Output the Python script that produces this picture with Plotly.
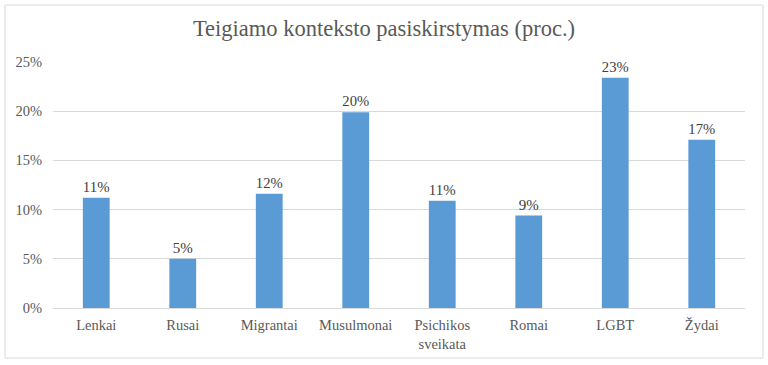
import plotly.graph_objects as go

categories = ["Lenkai", "Rusai", "Migrantai", "Musulmonai", "Psichikos<br>sveikata",
              "Romai", "LGBT", "Žydai"]
values = [11.2, 5.0, 11.6, 19.9, 10.9, 9.4, 23.4, 17.1]
y_ticks = [0, 5, 10, 15, 20, 25]
y_tick_labels = ["0%", "5%", "10%", "15%", "20%", "25%"]
title_text = "Teigiamo konteksto pasiskirstymas (proc.)"

W, H = 768, 365
ml, mr, mt, mb = 53, 23, 62, 57
pw, ph = W - ml - mr, H - mt - mb
SERIF = "'Liberation Serif', 'Times New Roman', Times, serif"

fig = go.Figure(go.Bar(
    x=categories, y=values,
    marker=dict(color="#5B9BD5", line=dict(width=0)),
    texttemplate="%{y:.0f}%", textposition="outside",
    textfont=dict(family=SERIF, size=15, color="#404040"),
    cliponaxis=False, hoverinfo="skip",
))

fig.update_layout(
    width=W, height=H,
    margin=dict(l=ml, r=mr, t=mt, b=mb, pad=0),
    paper_bgcolor="white", plot_bgcolor="white",
    bargap=0.69,
    showlegend=False,
    title=dict(text=title_text, x=0.5, xanchor="center", y=1 - 28 / H, yanchor="middle",
               font=dict(family=SERIF, size=22.5, color="#595959")),
    font=dict(family=SERIF, size=14.5, color="#595959"),
    xaxis=dict(showgrid=False, showline=True, linecolor="#d9d9d9", linewidth=1,
               ticks="", ticklabelstandoff=4,
               tickfont=dict(family=SERIF, size=14.5, color="#595959"), fixedrange=True),
    yaxis=dict(range=[0, 25], tickvals=y_ticks, ticktext=y_tick_labels,
               showgrid=True, gridcolor="#d9d9d9", gridwidth=1, zeroline=False,
               showline=False, ticks="", ticklabelstandoff=10,
               tickfont=dict(family=SERIF, size=14.5, color="#595959"), fixedrange=True),
    shapes=[dict(type="rect", xref="paper", yref="paper",
                 x0=(5 - ml) / pw, x1=(763 - ml) / pw,
                 y0=-(358 - mt - ph) / ph, y1=1 + (mt - 5) / ph,
                 line=dict(color="#d9d9d9", width=1), layer="below")],
)

fig.write_html("out.html", config={"displayModeBar": False},
               post_script="document.body.style.margin='0';")
